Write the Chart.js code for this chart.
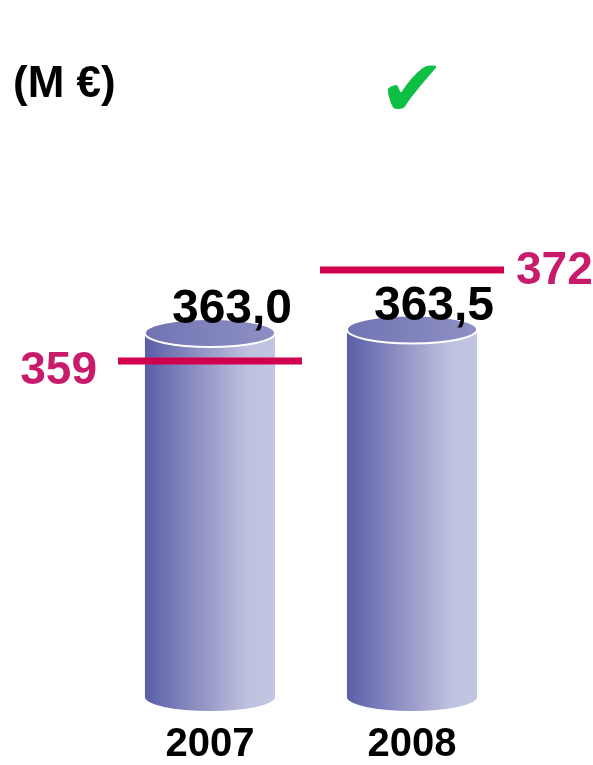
<!DOCTYPE html>
<html>
<head>
<meta charset="utf-8">
<script src="https://cdn.jsdelivr.net/npm/chart.js@4.4.1/dist/chart.umd.min.js"></script>
<style>
  html, body { margin: 0; padding: 0; background: #ffffff; }
  #wrap { width: 593px; height: 765px; position: relative; }
</style>
</head>
<body>
<div id="wrap"><canvas id="c" width="593" height="765"></canvas></div>
<script>
// ---- data ----
const categories = ['2007', '2008'];
const actualValues = [363.0, 363.5];
const valueLabels = ['363,0', '363,5'];
const targetValues = [359, 372];
const targetLabels = ['359', '372'];
const unitLabel = '(M €)';
const checkMark = '✔';

const FONT = '"Liberation Sans", Arial, sans-serif';

const cylinderPlugin = {
  id: 'cylinders',
  afterDatasetsDraw(chart) {
    const ctx = chart.ctx;
    const meta = chart.getDatasetMeta(0);
    const yScale = chart.scales.y;
    const base = yScale.getPixelForValue(yScale.min);
    meta.data.forEach((bar, i) => {
      const p = bar.getProps(['x', 'y', 'width'], true);
      const cx = p.x, w = p.width, left = cx - w / 2, right = cx + w / 2;
      const top = p.y;
      const ry = 14;
      const g = ctx.createLinearGradient(left, 0, right, 0);
      g.addColorStop(0, '#5a5ea8');
      g.addColorStop(0.45, '#9596c6');
      g.addColorStop(0.8, '#bfc2df');
      g.addColorStop(1, '#c3c6e2');
      ctx.save();
      ctx.beginPath();
      ctx.moveTo(left, top);
      ctx.lineTo(left, base);
      ctx.ellipse(cx, base, w / 2, ry, 0, Math.PI, 0, true);
      ctx.lineTo(right, top);
      ctx.closePath();
      ctx.fillStyle = g;
      ctx.fill();
      const g2 = ctx.createLinearGradient(left, 0, right, 0);
      g2.addColorStop(0, '#7174b3');
      g2.addColorStop(1, '#8e90c4');
      ctx.beginPath();
      ctx.ellipse(cx, top, w / 2, ry, 0, 0, Math.PI * 2);
      ctx.fillStyle = g2;
      ctx.fill();
      ctx.lineWidth = 2;
      ctx.strokeStyle = '#ffffff';
      ctx.stroke();
      ctx.restore();
    });
    // target lines
    meta.data.forEach((bar, i) => {
      const p = bar.getProps(['x', 'width'], true);
      const ty = yScale.getPixelForValue(targetValues[i]);
      const half = p.width * 0.707;
      ctx.save();
      ctx.fillStyle = '#d1004f';
      ctx.fillRect(p.x - half, ty - 3.5, half * 2, 7);
      ctx.font = 'bold 46px ' + FONT;
      ctx.fillStyle = '#c81b6b';
      ctx.textBaseline = 'middle';
      if (i === 0) {
        ctx.textAlign = 'right';
        ctx.fillText(targetLabels[i], p.x - half - 21, ty + 10);
      } else {
        ctx.textAlign = 'left';
        ctx.fillText(targetLabels[i], p.x + half + 12, ty + 1);
      }
      ctx.restore();
    });
    // value labels
    meta.data.forEach((bar, i) => {
      const p = bar.getProps(['x', 'y'], true);
      ctx.save();
      ctx.font = 'bold 48px ' + FONT;
      ctx.fillStyle = '#000000';
      ctx.textAlign = 'center';
      ctx.textBaseline = 'alphabetic';
      ctx.fillText(valueLabels[i], p.x + 22, p.y - 10);
      ctx.restore();
    });
    // unit label and check mark
    ctx.save();
    ctx.font = 'bold 44px ' + FONT;
    ctx.fillStyle = '#000000';
    ctx.textAlign = 'left';
    ctx.textBaseline = 'alphabetic';
    ctx.fillText(unitLabel, 13, 97);
    const x2 = meta.data[1].getProps(['x'], true).x;
    ctx.font = 'bold 80px "DejaVu Sans", sans-serif';
    ctx.fillStyle = '#0dbf43';
    ctx.textAlign = 'center';
    ctx.fillText(checkMark, x2, 116);
    ctx.restore();
  }
};

new Chart(document.getElementById('c'), {
  type: 'bar',
  data: {
    labels: categories,
    datasets: [{
      data: actualValues,
      backgroundColor: 'rgba(0,0,0,0)',
      borderWidth: 0,
      barPercentage: 0.644,
      categoryPercentage: 1.0
    }]
  },
  options: {
    responsive: false,
    animation: false,
    events: [],
    layout: { padding: { top: 214, left: 109, right: 80, bottom: 0 } },
    plugins: { legend: { display: false }, tooltip: { enabled: false } },
    scales: {
      x: {
        grid: { display: false, drawTicks: false },
        border: { display: false },
        ticks: {
          color: '#000000',
          font: { family: FONT, size: 40, weight: 'bold', lineHeight: 1.0 },
          padding: 28
        },
        afterFit(scale) { scale.height = 68; }
      },
      y: {
        display: false,
        min: 311,
        max: 380
      }
    }
  },
  plugins: [cylinderPlugin]
});
</script>
</body>
</html>
